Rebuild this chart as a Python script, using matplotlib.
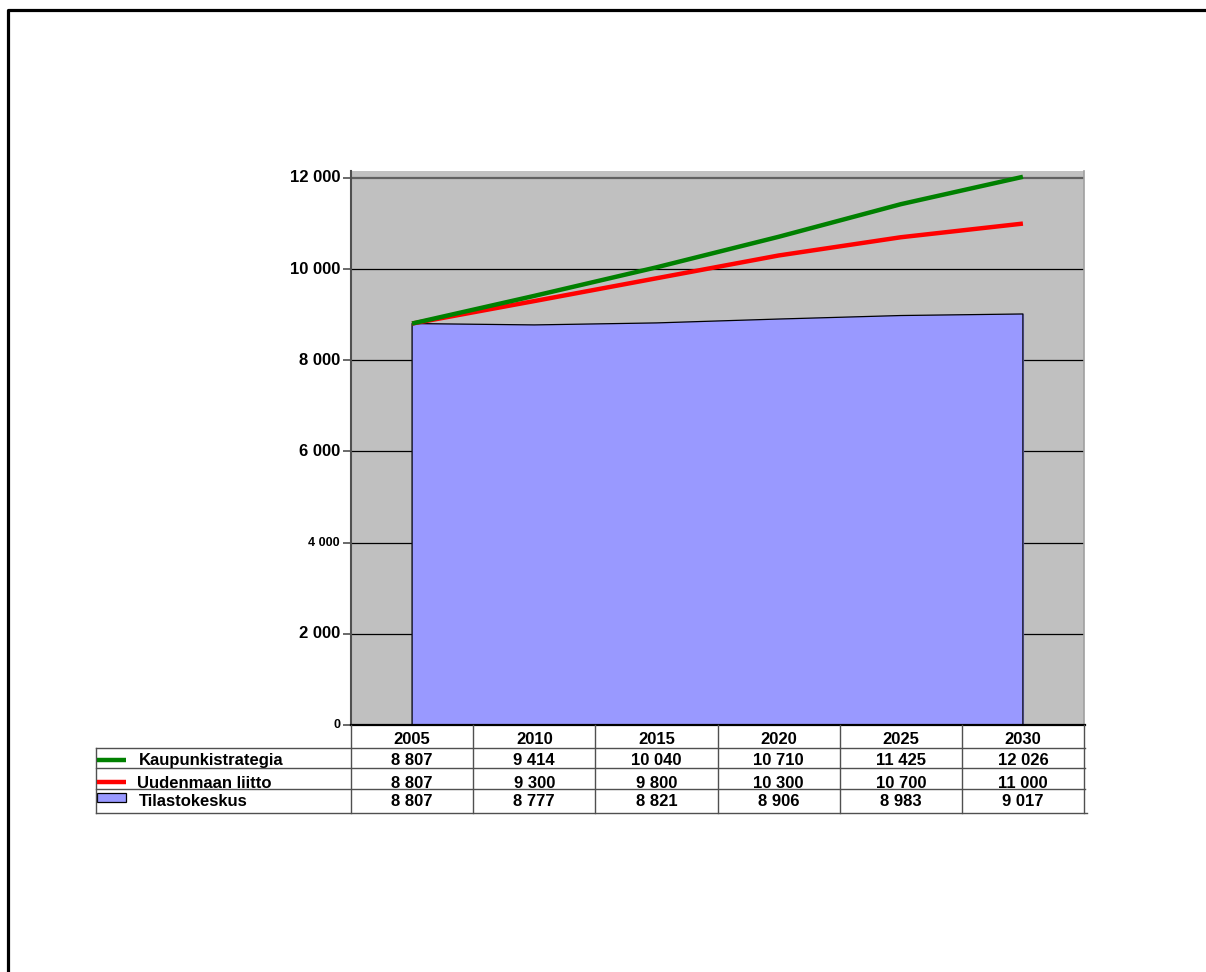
import numpy as np
import matplotlib
matplotlib.use('Agg')
import matplotlib.pyplot as plt
from matplotlib.transforms import blended_transform_factory
from matplotlib.lines import Line2D
from matplotlib.patches import Rectangle

plt.rcParams['font.family'] = ['Liberation Sans', 'DejaVu Sans']

# Data
years = ['2005', '2010', '2015', '2020', '2025', '2030']
kaupunkistrategia = [8807, 9414, 10040, 10710, 11425, 12026]
uudenmaan_liitto = [8807, 9300, 9800, 10300, 10700, 11000]
tilastokeskus = [8807, 8777, 8821, 8906, 8983, 9017]
series_names = ['Kaupunkistrategia', 'Uudenmaan liitto', 'Tilastokeskus']
y_ticks = [0, 2000, 4000, 6000, 8000, 10000, 12000]
tick_sizes = [9, 12, 9, 12, 12, 12, 12]

W, H = 1206, 972
fig = plt.figure(figsize=(W / 100, H / 100), dpi=100)


def fx(px):
    return px / W


def fy(py):
    return 1 - py / H


# outer frame (only top and left visible)
fig.add_artist(Line2D([fx(7.5), fx(7.5), 1.0], [0.0, fy(10), fy(10)],
                      transform=fig.transFigure, color='black', lw=2.3))

ax = fig.add_axes([fx(351), fy(725), fx(1084) - fx(351), fy(171) - fy(725)])
ax.set_facecolor('#C0C0C0')
x = np.arange(len(years))

ymax = 12000 * (725 - 171) / (725 - 178)
ax.set_xlim(-0.5, len(years) - 0.5)
ax.set_ylim(0, ymax)

# gridlines
for t in y_ticks[1:-1]:
    ax.axhline(t, color='black', lw=0.9, zorder=1)
ax.axhline(12000, color='#606060', lw=1.6, zorder=1)

# area + lines
ax.fill_between(x, 0, tilastokeskus, color='#9999FF', zorder=2)
ax.plot(np.r_[x[0], x, x[-1]], np.r_[0, tilastokeskus, 0], color='black', lw=0.9, zorder=3)
ax.plot(x, uudenmaan_liitto, color='#FF0000', lw=3.2, zorder=4, solid_capstyle='butt', clip_on=False)
ax.plot(x, kaupunkistrategia, color='#008000', lw=3.2, zorder=5, solid_capstyle='butt', clip_on=False)

for s in ['top', 'bottom']:
    ax.spines[s].set_visible(False)
ax.spines['right'].set_color('#A0A0A0')
ax.spines['right'].set_linewidth(1.2)
ax.spines['left'].set_color('#505050')
ax.spines['left'].set_linewidth(1.5)
ax.set_xticks([])
ax.set_yticks(y_ticks)
ax.set_yticklabels([])
ax.tick_params(axis='y', direction='out', length=6, width=1.2, color='#505050')
ytrans = blended_transform_factory(fig.transFigure, ax.transData)
for t, fs in zip(y_ticks, tick_sizes):
    ax.text(fx(340), t, f'{t:,}'.replace(',', ' '), transform=ytrans, ha='right', va='center',
            fontsize=fs, fontweight='bold', clip_on=False)

# data table
tt = blended_transform_factory(ax.transData, fig.transFigure)
ft = fig.transFigure
fig.add_artist(Line2D([fx(351), fx(1085)], [fy(725), fy(725)], transform=ft, color='black', lw=1.6))
for yy in [748, 768, 789]:
    fig.add_artist(Line2D([fx(96), fx(1085)], [fy(yy), fy(yy)], transform=ft, color='#505050', lw=1.0))
fig.add_artist(Line2D([fx(96), fx(1087)], [fy(813), fy(813)], transform=ft, color='#505050', lw=1.0))
fig.add_artist(Line2D([fx(96), fx(96)], [fy(748), fy(813)], transform=ft, color='#505050', lw=1.0))
for i in range(len(years) + 1):
    fig.add_artist(Line2D([i - 0.5, i - 0.5], [fy(725), fy(813)], transform=tt, color='#505050', lw=1.0))

row_y = [760, 783, 802]
rows = [kaupunkistrategia, uudenmaan_liitto, tilastokeskus]
for i, yr in enumerate(years):
    fig.text(i, fy(739), yr, transform=tt, ha='center', va='center', fontsize=12, fontweight='bold')
    for ry, vals in zip(row_y, rows):
        fig.text(i, fy(ry), f'{vals[i]:,}'.replace(',', ' '), transform=tt, ha='center', va='center',
                 fontsize=12, fontweight='bold')

# legend keys
fig.add_artist(Line2D([fx(97), fx(126)], [fy(760), fy(760)], transform=ft, color='#008000', lw=3.2,
                      solid_capstyle='butt'))
fig.add_artist(Line2D([fx(97), fx(126)], [fy(782), fy(782)], transform=ft, color='#FF0000', lw=3.2,
                      solid_capstyle='butt'))
fig.add_artist(Rectangle((fx(97), fy(802)), fx(126) - fx(97), fy(793) - fy(802), transform=ft,
                         facecolor='#9999FF', edgecolor='black', lw=0.9))
for name, ry, xs in zip(series_names, row_y, [139, 137, 139]):
    fig.text(fx(xs), fy(ry), name, ha='left', va='center', fontsize=12, fontweight='bold')

fig.savefig('out.png', dpi=100)
